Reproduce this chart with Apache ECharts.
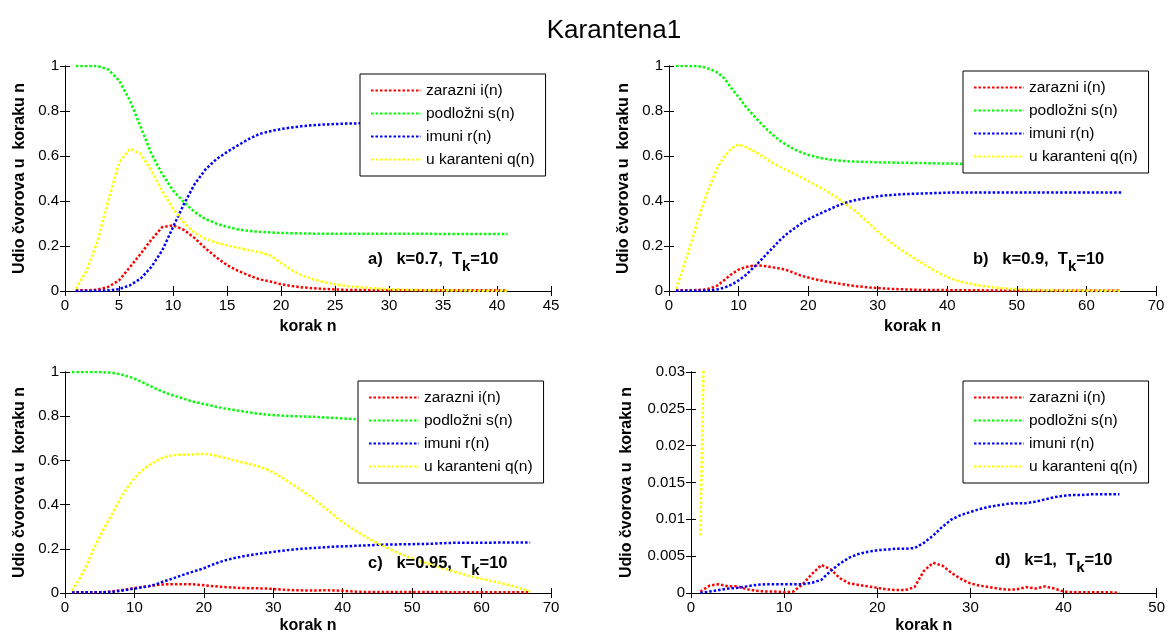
<!DOCTYPE html>
<html><head><meta charset="utf-8">
<script src="https://cdn.jsdelivr.net/npm/echarts@6/dist/echarts.min.js"></script>
<style>html,body{margin:0;padding:0;background:#fff}#c{width:1168px;height:637px}</style>
</head><body><div id="c"></div>
<script>
const seriesNames = ['zarazni i(n)', 'podložni s(n)', 'imuni r(n)', 'u karanteni q(n)'];
const seriesColors = ['#ff0000', '#00ff00', '#0000ff', '#ffff00'];
const chartTitle = 'Karantena1';
const xName = 'korak n';
const yName = 'Udio čvorova u  koraku n';

// Panel a) k=0.7, Tk=10  (n = 1..41)
const aI = [0.003,0.003,0.006,0.018,0.047,0.105,0.165,0.228,0.284,0.292,0.272,0.235,0.19,0.15,0.115,0.09,0.07,0.052,0.042,0.03,0.022,0.016,0.012,0.009,0.007,0.005,0.004,0.004,0.003,0.003,0.003,0.003,0.003,0.003,0.003,0.003,0.003,0.003,0.003,0.003,0.002];
const aS = [1,1,1,0.985,0.936,0.847,0.73,0.61,0.52,0.447,0.396,0.351,0.32,0.3,0.285,0.274,0.267,0.263,0.26,0.258,0.257,0.256,0.255,0.255,0.254,0.254,0.254,0.254,0.254,0.254,0.254,0.254,0.254,0.254,0.253,0.253,0.253,0.253,0.253,0.253,0.253];
const aR = [0,0,0.001,0.003,0.008,0.025,0.055,0.107,0.18,0.284,0.385,0.475,0.54,0.585,0.618,0.647,0.675,0.698,0.71,0.72,0.727,0.733,0.737,0.74,0.742,0.744,0.745,0.746,0.747,0.747,0.747,0.747,0.747,0.747,0.747,0.747,0.747,0.747,0.747,0.747,0.747];
const aQ = [0.01,0.09,0.22,0.4,0.57,0.632,0.61,0.535,0.445,0.365,0.305,0.258,0.232,0.215,0.203,0.192,0.182,0.172,0.158,0.125,0.092,0.068,0.052,0.04,0.03,0.023,0.018,0.014,0.011,0.008,0.006,0.005,0.004,0.003,0.003,0.002,0.002,0.001,0.001,0.001,0];

// Panel b) k=0.9, Tk=10  (n = 1..65)
const bI = [0.003,0.003,0.003,0.004,0.006,0.012,0.025,0.05,0.075,0.095,0.106,0.112,0.113,0.11,0.105,0.1,0.092,0.08,0.068,0.06,0.052,0.046,0.04,0.035,0.03,0.025,0.021,0.018,0.015,0.013,0.011,0.009,0.008,0.007,0.006,0.005,0.005,0.004,0.004,0.004,0.003,0.003,0.003,0.003,0.003,0.002,0.002,0.002,0.002,0.002,0.002,0.002,0.002,0.002,0.002,0.002,0.002,0.002,0.002,0.002,0.002,0.002,0.002,0.002,0.002];
const bS = [1,1,1,1,0.995,0.985,0.97,0.944,0.9,0.862,0.82,0.785,0.752,0.72,0.692,0.667,0.647,0.63,0.616,0.605,0.597,0.59,0.585,0.581,0.578,0.576,0.575,0.574,0.573,0.572,0.571,0.571,0.57,0.57,0.569,0.569,0.568,0.568,0.567,0.567,0.566,0.566,0.566,0.566,0.566,0.566,0.566,0.566,0.566,0.566,0.566,0.566,0.566,0.566,0.566,0.566,0.566,0.566,0.566,0.566,0.566,0.566,0.566,0.566,0.566];
const bR = [0.001,0.001,0.001,0.001,0.002,0.003,0.008,0.015,0.028,0.047,0.07,0.1,0.13,0.163,0.195,0.228,0.255,0.278,0.3,0.318,0.334,0.348,0.362,0.376,0.388,0.398,0.405,0.411,0.416,0.421,0.424,0.427,0.429,0.431,0.432,0.433,0.434,0.435,0.436,0.437,0.438,0.438,0.438,0.438,0.438,0.438,0.438,0.438,0.438,0.438,0.438,0.438,0.438,0.438,0.438,0.438,0.438,0.438,0.438,0.438,0.438,0.438,0.438,0.438,0.438];
const bQ = [0.01,0.1,0.196,0.3,0.395,0.477,0.55,0.6,0.635,0.652,0.64,0.625,0.607,0.587,0.567,0.551,0.536,0.52,0.505,0.488,0.472,0.456,0.438,0.418,0.396,0.373,0.35,0.322,0.294,0.264,0.238,0.213,0.19,0.17,0.151,0.131,0.112,0.094,0.077,0.062,0.05,0.041,0.034,0.028,0.023,0.019,0.015,0.012,0.01,0.008,0.006,0.005,0.004,0.003,0.003,0.002,0.002,0.002,0.002,0.001,0.001,0.001,0.001,0.001,0.001];

// Panel c) k=0.95, Tk=10  (n = 1..67)
const cI = [0.003,0.003,0.003,0.003,0.003,0.005,0.008,0.012,0.017,0.022,0.027,0.031,0.035,0.038,0.04,0.04,0.04,0.04,0.038,0.035,0.032,0.029,0.027,0.025,0.023,0.022,0.022,0.021,0.02,0.018,0.016,0.014,0.013,0.012,0.011,0.011,0.012,0.012,0.011,0.01,0.008,0.006,0.005,0.004,0.004,0.004,0.004,0.004,0.004,0.004,0.004,0.004,0.004,0.004,0.004,0.003,0.003,0.003,0.003,0.003,0.003,0.003,0.003,0.003,0.003,0.003,0.003];
const cS = [1,1,1,1,1,0.998,0.995,0.99,0.98,0.97,0.956,0.941,0.926,0.912,0.9,0.89,0.88,0.87,0.862,0.855,0.848,0.841,0.835,0.83,0.825,0.82,0.815,0.811,0.807,0.805,0.803,0.801,0.8,0.799,0.798,0.797,0.795,0.793,0.792,0.79,0.788,0.786,0.784,0.782,0.781,0.78,0.78,0.78,0.78,0.78,0.779,0.779,0.779,0.779,0.779,0.778,0.778,0.778,0.778,0.778,0.778,0.777,0.777,0.777,0.777,0.777,0.777];
const cR = [0.003,0.003,0.003,0.003,0.003,0.004,0.006,0.01,0.015,0.02,0.025,0.03,0.038,0.05,0.06,0.071,0.082,0.092,0.102,0.112,0.125,0.137,0.147,0.155,0.162,0.168,0.173,0.178,0.182,0.186,0.19,0.194,0.197,0.2,0.202,0.204,0.206,0.208,0.21,0.211,0.212,0.214,0.215,0.216,0.218,0.219,0.22,0.22,0.221,0.221,0.222,0.222,0.223,0.225,0.226,0.227,0.227,0.227,0.227,0.227,0.227,0.228,0.228,0.228,0.228,0.228,0.228];
const cQ = [0.01,0.06,0.12,0.19,0.255,0.315,0.372,0.428,0.478,0.52,0.552,0.576,0.595,0.61,0.62,0.625,0.626,0.626,0.628,0.63,0.626,0.62,0.612,0.603,0.595,0.588,0.58,0.571,0.56,0.546,0.527,0.507,0.487,0.466,0.445,0.421,0.396,0.371,0.345,0.32,0.299,0.279,0.26,0.242,0.226,0.211,0.196,0.181,0.168,0.157,0.146,0.136,0.126,0.116,0.107,0.097,0.088,0.079,0.071,0.064,0.057,0.05,0.043,0.036,0.027,0.017,0.006];

// Panel d) k=1, Tk=10  (n = 1..46)
const dI = [0.0002,0.001,0.0012,0.0009,0.0009,0.0005,0.0003,0.0002,0.0002,0.0001,0.0002,0.0012,0.0026,0.0038,0.0032,0.002,0.0013,0.0011,0.0009,0.0007,0.0005,0.0004,0.0004,0.0008,0.003,0.0041,0.0037,0.0027,0.0019,0.0013,0.001,0.0008,0.0006,0.00045,0.0005,0.0008,0.0006,0.0009,0.0006,0.0002,0.0001,0.0001,0.0001,0.0001,0.0001,0];
const dS = [0.992,0.925,0.85,0.76,0.67,0.58,0.5,0.43,0.37,0.32,0.28,0.25,0.22,0.2,0.18,0.16,0.15,0.14,0.13,0.12,0.11,0.105,0.1,0.095,0.09,0.085,0.08,0.075,0.07,0.066,0.062,0.058,0.055,0.052,0.049,0.047,0.045,0.043,0.042,0.041,0.04,0.039,0.038,0.037,0.036,0.035];
const dR = [0,0.0002,0.0004,0.0006,0.0007,0.0009,0.0011,0.0012,0.0012,0.0012,0.0012,0.0012,0.0014,0.0018,0.003,0.004,0.0048,0.0053,0.0056,0.0058,0.0059,0.006,0.006,0.0061,0.0068,0.0078,0.009,0.01,0.0106,0.011,0.0114,0.0117,0.0119,0.0121,0.0122,0.0122,0.0124,0.0127,0.013,0.0132,0.0133,0.0133,0.0134,0.0134,0.0134,0.0134];
const dQ = [0.0078,0.074,0.148,0.238,0.328,0.418,0.498,0.568,0.628,0.678,0.718,0.748,0.778,0.797,0.815,0.834,0.84,0.85,0.86,0.87,0.88,0.885,0.89,0.893,0.897,0.901,0.905,0.91,0.914,0.918,0.922,0.926,0.929,0.932,0.935,0.937,0.939,0.941,0.942,0.943,0.945,0.946,0.947,0.948,0.949,0.95];

// axis ticks per panel
const aXTicks = {min: 0, max: 45, interval: 5};
const bXTicks = {min: 0, max: 70, interval: 10};
const cXTicks = {min: 0, max: 70, interval: 10};
const dXTicks = {min: 0, max: 50, interval: 10};
const abcYTicks = {min: 0, max: 1, interval: 0.2};
const dYTicks = {min: 0, max: 0.03, interval: 0.005};

const panelLabels = [
  {pre: 'a)   k=0.7,  T', sub: 'k', post: '=10'},
  {pre: 'b)   k=0.9,  T', sub: 'k', post: '=10'},
  {pre: 'c)   k=0.95,  T', sub: 'k', post: '=10'},
  {pre: 'd)   k=1,  T', sub: 'k', post: '=10'}
];

const FONT = 'Liberation Sans, Arial, Helvetica, sans-serif';

const panels = [
  {data: [aI, aS, aR, aQ], xt: aXTicks, yt: abcYTicks,
   grid: {left: 65, top: 66, width: 486, height: 225}, yGap: 37, xGap: 28,
   legend: {left: 360, top: 74}, label: {left: 368, top: 251}},
  {data: [bI, bS, bR, bQ], xt: bXTicks, yt: abcYTicks,
   grid: {left: 669, top: 66, width: 487, height: 225}, yGap: 37, xGap: 28,
   legend: {left: 963, top: 71}, label: {left: 973, top: 251}},
  {data: [cI, cS, cR, cQ], xt: cXTicks, yt: abcYTicks,
   grid: {left: 65, top: 372, width: 486, height: 221}, yGap: 37, xGap: 25,
   legend: {left: 358, top: 381}, label: {left: 368, top: 555}},
  {data: [dI, dS, dR, dQ], xt: dXTicks, yt: dYTicks,
   grid: {left: 691, top: 372, width: 467, height: 221}, yGap: 56, xGap: 25,
   legend: {left: 963, top: 381}, label: {left: 995, top: 552}}
];

const grids = [], xAxes = [], yAxes = [], series = [], legends = [], graphics = [];
const tickStyle = {show: true, inside: true, length: 5, lineStyle: {color: '#000', width: 1}};
const lineStyleAxis = {show: true, lineStyle: {color: '#000', width: 1}};
const labelStyle = {color: '#000', fontSize: 15, fontFamily: FONT};
const nameStyle = {color: '#000', fontSize: 16, fontWeight: 'bold', fontFamily: FONT};

panels.forEach((p, gi) => {
  grids.push(Object.assign({containLabel: false}, p.grid));
  xAxes.push({type: 'value', gridIndex: gi, position: 'bottom', min: p.xt.min, max: p.xt.max, interval: p.xt.interval,
    axisLine: lineStyleAxis, axisTick: tickStyle, splitLine: {show: false},
    axisLabel: Object.assign({margin: 7}, labelStyle),
    name: xName, nameLocation: 'middle', nameGap: p.xGap, nameTextStyle: nameStyle});
  xAxes.push({type: 'value', gridIndex: gi, position: 'top', min: p.xt.min, max: p.xt.max, interval: p.xt.interval,
    axisLine: lineStyleAxis, axisTick: tickStyle, splitLine: {show: false}, axisLabel: {show: false}});
  yAxes.push({type: 'value', gridIndex: gi, position: 'left', min: p.yt.min, max: p.yt.max, interval: p.yt.interval,
    axisLine: lineStyleAxis, axisTick: tickStyle, splitLine: {show: false},
    axisLabel: Object.assign({margin: 6}, labelStyle),
    name: yName, nameLocation: 'middle', nameGap: p.yGap, nameTextStyle: nameStyle});
  yAxes.push({type: 'value', gridIndex: gi, position: 'right', min: p.yt.min, max: p.yt.max, interval: p.yt.interval,
    axisLine: lineStyleAxis, axisTick: tickStyle, splitLine: {show: false}, axisLabel: {show: false}});
  p.data.forEach((vals, k) => {
    series.push({
      type: 'line', name: seriesNames[k], xAxisIndex: 2 * gi, yAxisIndex: 2 * gi,
      data: vals.map((v, i) => [i + 1, v]),
      symbol: 'none', showSymbol: false, clip: true, animation: false,
      lineStyle: {color: seriesColors[k], width: 2.5, type: [2.5, 2]},
      itemStyle: {color: seriesColors[k]}
    });
  });
  legends.push({
    data: seriesNames, orient: 'vertical', left: p.legend.left, top: p.legend.top,
    itemWidth: 50, itemHeight: 14, itemGap: 7, padding: [8.5, 11, 8.5, 10],
    backgroundColor: '#fff', borderColor: '#000', borderWidth: 1, borderRadius: 0,
    selectedMode: false, z: 10,
    itemStyle: {opacity: 0},
    textStyle: {color: '#000', fontSize: 15.5, fontFamily: FONT}
  });
  const L = panelLabels[gi];
  graphics.push({
    type: 'text', left: p.label.left, top: p.label.top, z: 20,
    style: {
      text: '{b|' + L.pre + '}{s|' + L.sub + '}{b|' + L.post + '}',
      rich: {
        b: {fontSize: 16.5, fontWeight: 'bold', fontFamily: FONT, fill: '#000', lineHeight: 19, verticalAlign: 'top'},
        s: {fontSize: 15, fontWeight: 'bold', fontFamily: FONT, fill: '#000', lineHeight: 19, padding: [8, 0, 0, 0], verticalAlign: 'top'}
      }
    }
  });
});

const chart = echarts.init(document.getElementById('c'), null, {renderer: 'canvas'});
chart.setOption({
  backgroundColor: '#fff',
  animation: false,
  title: {text: chartTitle, left: 609, top: 13, textAlign: 'center',
    textStyle: {color: '#000', fontSize: 26, fontWeight: 'normal', fontFamily: FONT}},
  grid: grids, xAxis: xAxes, yAxis: yAxes, series: series, legend: legends, graphic: graphics
});
</script>
</body></html>
